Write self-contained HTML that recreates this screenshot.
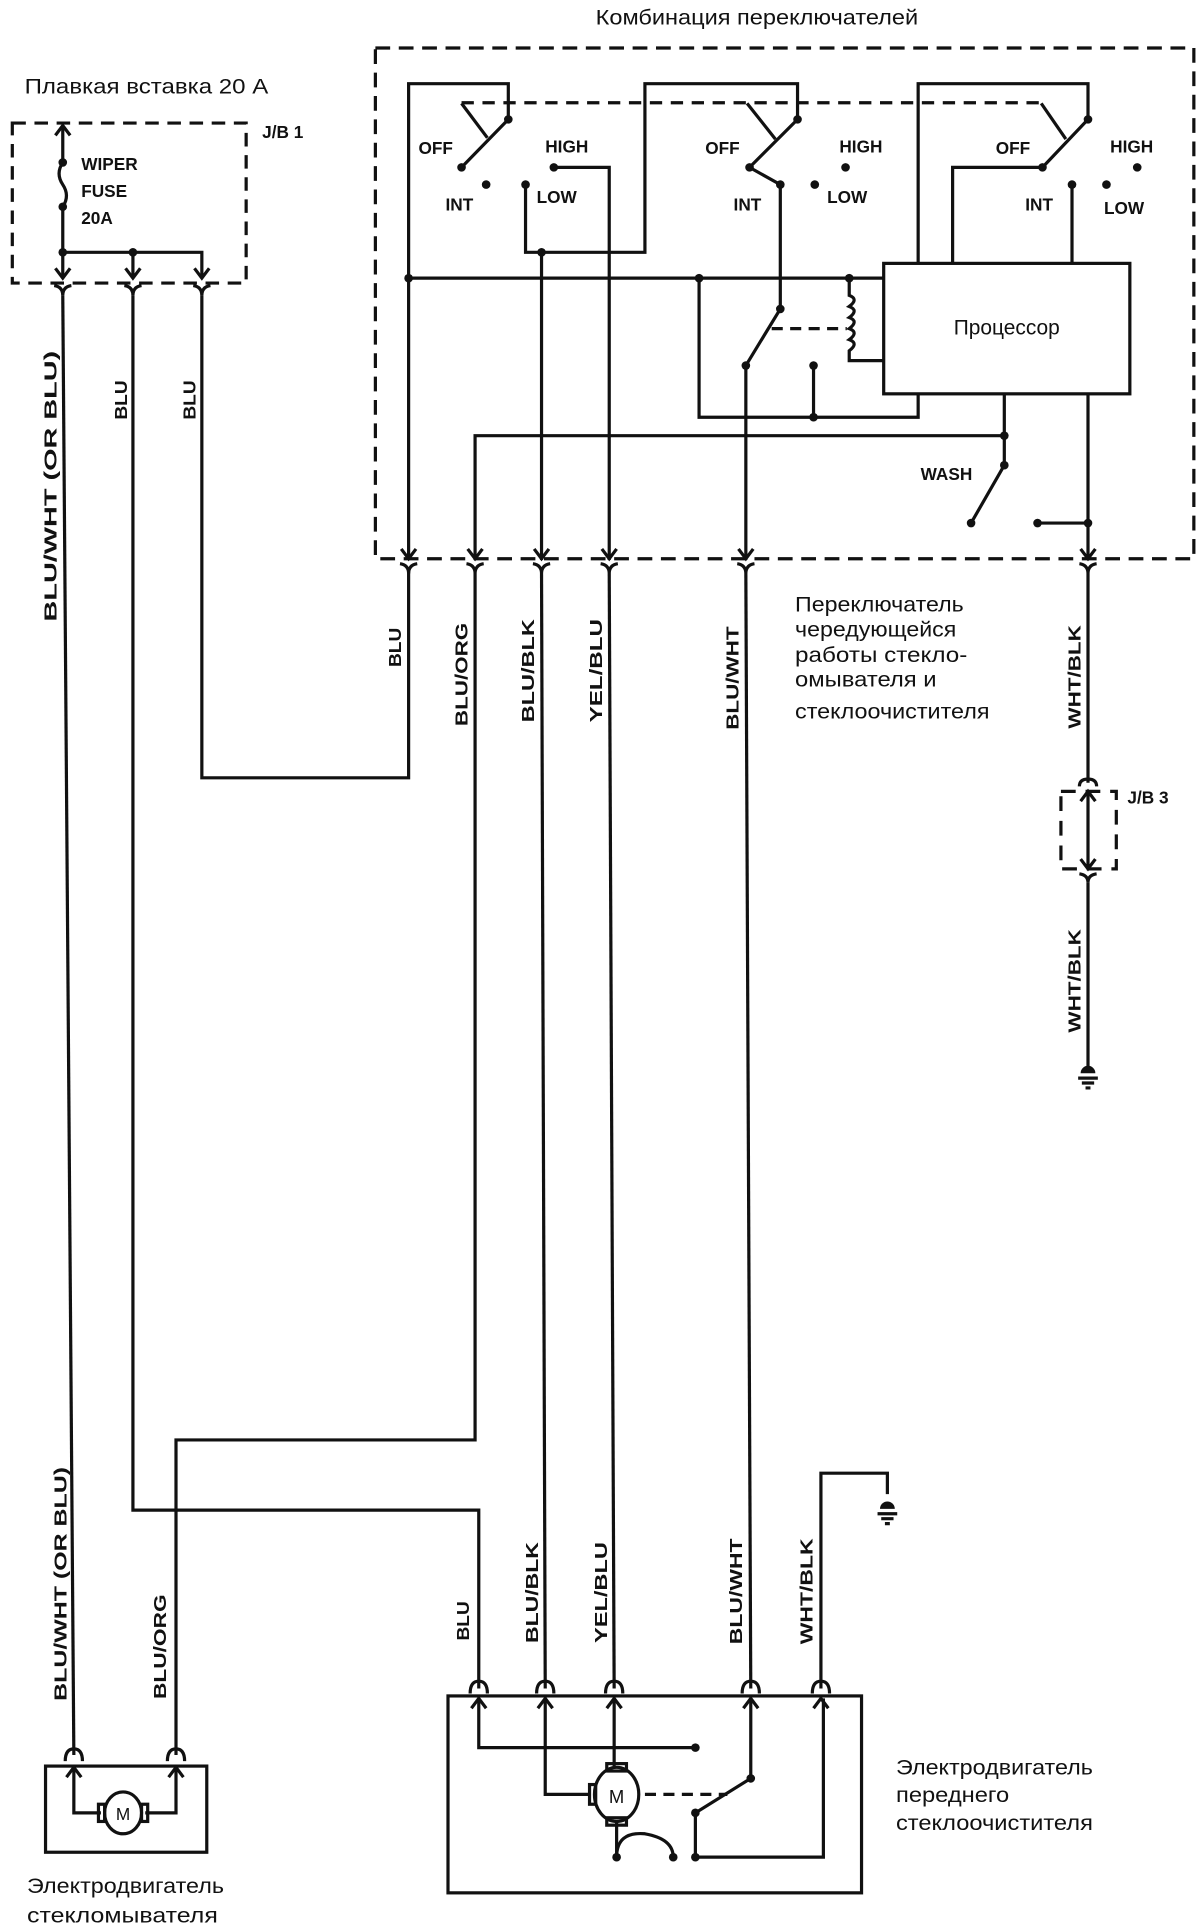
<!DOCTYPE html>
<html><head><meta charset="utf-8"><style>
html,body{margin:0;padding:0;background:#fff;}
svg{display:block;}
text{font-family:"Liberation Sans","DejaVu Sans",sans-serif;fill:#111;}
.l{font-size:14px;font-weight:bold;}
.r{font-size:17px;}
</style></head><body>
<svg width="1200" height="1931" viewBox="0 0 975 1569" preserveAspectRatio="none" xmlns="http://www.w3.org/2000/svg">
<g fill="none" stroke="#111" stroke-width="2.6" stroke-linejoin="miter">
<!-- J/B 1 -->
<rect x="10" y="100" width="190" height="130" stroke-dasharray="11 7"/>
<path d="M51,102 V132 M51,168 V226 M51,205 H164 V226 M108,205 V226"/>
<path d="M51,132 q-6,9 0,18 q6,9 0,18"/>
<path d="M45,110 L51,102 L57,110"/>
<path d="M45,218 L51,226 L57,218 M102,218 L108,226 L114,218 M158,218 L164,226 L170,218"/>
<!-- cups below JB1 -->
<path d="M44,232 Q51,233 51,240 M58,232 Q51,233 51,240 M101,232 Q108,233 108,240 M115,232 Q108,233 108,240 M157,232 Q164,233 164,240 M171,232 Q164,233 164,240"/>
<!-- wires from JB1 -->
<path d="M51,240 L60,1426"/>
<path d="M108,240 V1227 H389 V1372"/>
<path d="M164,240 V632 H332 V462"/>
<!-- Combination switch box -->
<rect x="305" y="39" width="665" height="415" stroke-dasharray="12 7"/>
<!-- switch 1 -->
<path d="M332,455 V68 H413 V97"/>
<path d="M413,97 L375,136"/>
<path d="M375,84 L396,112" />
<path d="M375,83.5 H846" stroke-dasharray="10 7"/>
<path d="M450,136 H495 V455"/>
<path d="M427,150 V205 H524 V68 H648 V97"/>
<path d="M440,205 V455"/>
<!-- switch 2 -->
<path d="M648,97 L609,136 L634,150 V251 L606,297 V455"/>
<path d="M607,84 L630,113"/>
<path d="M627,267 H688" stroke-dasharray="9 6"/>
<!-- switch 3 -->
<path d="M746,214 V68 H884 V97 L847,136 H774 V214"/>
<path d="M871,150 V214"/>
<path d="M846,84 L866,113"/>
<!-- bus -->
<path d="M332,226 H718"/>
<path d="M690,226 V240 q8,3 0,9 q8,3 0,9 q8,3 0,9 q8,3 0,9 q8,3 0,9 V293 H718"/>
<path d="M568,226 V339 H746 V320"/>
<path d="M661,339 V297"/>
<rect x="718" y="214" width="200" height="106"/>
<path d="M816,320 V378 L789,425"/>
<path d="M386,455 V354 H816"/>
<path d="M884,320 V455 M884,425 H843"/>
<!-- down arrows in box -->
<path d="M326,446 L332,454 L338,446 M380,446 L386,454 L392,446 M434,446 L440,454 L446,446 M489,446 L495,454 L501,446 M600,446 L606,454 L612,446 M878,446 L884,454 L890,446"/>
<!-- cups below box -->
<path d="M325,458 Q332,459 332,466 M339,458 Q332,459 332,466 M379,458 Q386,459 386,466 M393,458 Q386,459 386,466 M433,458 Q440,459 440,466 M447,458 Q440,459 440,466 M488,458 Q495,459 495,466 M502,458 Q495,459 495,466 M599,458 Q606,459 606,466 M613,458 Q606,459 606,466 M877,458 Q884,459 884,466 M891,458 Q884,459 884,466"/>
<!-- wires down -->
<path d="M386,466 V1170 H143 V1426"/>
<path d="M440,466 L443,1372"/>
<path d="M495,466 L499,1372"/>
<path d="M606,466 L610,1372"/>
<path d="M884,466 V636"/>
<!-- J/B 3 -->
<rect x="862" y="643" width="45" height="63" stroke-dasharray="12 8"/>
<path d="M884,643 V706 M878,651 L884,643 L890,651 M878,698 L884,706 L890,698"/>
<path d="M877,639 Q877,633 884,633 Q891,633 891,639"/>
<path d="M877,710 Q884,711 884,717 M891,710 Q884,711 884,717"/>
<path d="M884,717 V870"/>
<!-- ground right -->
<path d="M876,876 H892 M879,880 H889 M882,884 H886"/>
<!-- ground bottom -->
<path d="M667,1372 V1197 H721 V1214"/>
<path d="M713,1230 H729 M716,1234 H726 M719,1238 H723"/>
<!-- main motor box -->
<rect x="364" y="1378" width="336" height="160"/>
<path d="M382,1376 Q382,1366 389,1366 Q396,1366 396,1376 M436,1376 Q436,1366 443,1366 Q450,1366 450,1376 M492,1376 Q492,1366 499,1366 Q506,1366 506,1376 M603,1376 Q603,1366 610,1366 Q617,1366 617,1376 M660,1376 Q660,1366 667,1366 Q674,1366 674,1376"/>
<path d="M383,1388 L389,1380 L395,1388 M437,1388 L443,1380 L449,1388 M493,1388 L499,1380 L505,1388 M604,1388 L610,1380 L616,1388 M661,1388 L667,1380 L673,1388"/>
<path d="M389,1380 V1420 H565"/>
<path d="M443,1380 V1458 H480"/>
<path d="M499,1380 V1436"/>
<path d="M610,1380 V1445 L565,1473 V1509 H669 V1380"/>
<path d="M501,1480 V1509"/>
<path d="M501,1509 Q501,1488 524,1490 Q547,1494 547,1509"/>
<path d="M524,1458 H591" stroke-dasharray="9 6"/>
<ellipse cx="501" cy="1458" rx="18" ry="22"/>
<rect x="493" y="1433" width="16" height="6"/>
<rect x="493" y="1477" width="16" height="6"/>
<rect x="479" y="1450" width="5" height="16"/>
<!-- washer motor -->
<rect x="37" y="1435" width="131" height="70"/>
<path d="M53,1431 Q53,1421 60,1421 Q67,1421 67,1431 M136,1431 Q136,1421 143,1421 Q150,1421 150,1431"/>
<path d="M54,1444 L60,1436 L66,1444 M137,1444 L143,1436 L149,1444"/>
<path d="M60,1436 V1473 H82 M143,1436 V1473 H118"/>
<ellipse cx="100" cy="1473" rx="15" ry="17"/>
<rect x="80" y="1466" width="5" height="14"/>
<rect x="115" y="1466" width="5" height="14"/>
</g>
<!-- dots -->
<g fill="#111">
<circle cx="51" cy="132" r="3.5"/><circle cx="51" cy="168" r="3.5"/>
<circle cx="51" cy="205" r="3.5"/><circle cx="108" cy="205" r="3.5"/>
<circle cx="413" cy="97" r="3.5"/><circle cx="375" cy="136" r="3.5"/>
<circle cx="395" cy="150" r="3.5"/><circle cx="450" cy="136" r="3.5"/><circle cx="427" cy="150" r="3.5"/>
<circle cx="440" cy="205" r="3.5"/>
<circle cx="648" cy="97" r="3.5"/><circle cx="609" cy="136" r="3.5"/><circle cx="634" cy="150" r="3.5"/>
<circle cx="687" cy="136" r="3.5"/><circle cx="662" cy="150" r="3.5"/>
<circle cx="634" cy="251" r="3.5"/><circle cx="606" cy="297" r="3.5"/><circle cx="661" cy="297" r="3.5"/>
<circle cx="661" cy="339" r="3.5"/>
<circle cx="884" cy="97" r="3.5"/><circle cx="847" cy="136" r="3.5"/><circle cx="871" cy="150" r="3.5"/>
<circle cx="899" cy="150" r="3.5"/><circle cx="924" cy="136" r="3.5"/>
<circle cx="332" cy="226" r="3.5"/><circle cx="568" cy="226" r="3.5"/><circle cx="690" cy="226" r="3.5"/>
<circle cx="816" cy="354" r="3.5"/><circle cx="816" cy="378" r="3.5"/><circle cx="789" cy="425" r="3.5"/>
<circle cx="884" cy="425" r="3.5"/><circle cx="843" cy="425" r="3.5"/>
<path d="M878,872 A6,6 0 0 1 890,872 Z"/>
<path d="M715,1226 A6,6 0 0 1 727,1226 Z"/>
<circle cx="565" cy="1420" r="3.5"/><circle cx="610" cy="1445" r="3.5"/><circle cx="565" cy="1473" r="3.5"/>
<circle cx="501" cy="1509" r="3.5"/><circle cx="547" cy="1509" r="3.5"/><circle cx="565" cy="1509" r="3.5"/>
</g>
<!-- text -->
<text class="r" x="615" y="20" text-anchor="middle" textLength="262" lengthAdjust="spacingAndGlyphs">Комбинация переключателей</text>
<text class="r" x="20" y="76" textLength="198" lengthAdjust="spacingAndGlyphs">Плавкая вставка 20 А</text>
<text class="l" x="213" y="112">J/B  1</text>
<text class="l" x="66" y="138">WIPER</text>
<text class="l" x="66" y="160">FUSE</text>
<text class="l" x="66" y="182">20A</text>
<text class="l" x="340" y="125">OFF</text>
<text class="l" x="362" y="171">INT</text>
<text class="l" x="443" y="124">HIGH</text>
<text class="l" x="436" y="165">LOW</text>
<text class="l" x="573" y="125">OFF</text>
<text class="l" x="596" y="171">INT</text>
<text class="l" x="682" y="124">HIGH</text>
<text class="l" x="672" y="165">LOW</text>
<text class="l" x="809" y="125">OFF</text>
<text class="l" x="833" y="171">INT</text>
<text class="l" x="902" y="124">HIGH</text>
<text class="l" x="897" y="174">LOW</text>
<text class="r" x="818" y="272" text-anchor="middle">Процессор</text>
<text class="l" x="748" y="390">WASH</text>
<text class="l" x="916" y="653">J/B  3</text>
<g class="r">
<text class="r" x="646" y="497" textLength="137" lengthAdjust="spacingAndGlyphs">Переключатель</text>
<text class="r" x="646" y="517" textLength="131" lengthAdjust="spacingAndGlyphs">чередующейся</text>
<text class="r" x="646" y="538" textLength="140" lengthAdjust="spacingAndGlyphs">работы стекло-</text>
<text class="r" x="646" y="558" textLength="115" lengthAdjust="spacingAndGlyphs">омывателя и</text>
<text class="r" x="646" y="584" textLength="158" lengthAdjust="spacingAndGlyphs">стеклоочистителя</text>
<text class="r" x="728" y="1442" textLength="160" lengthAdjust="spacingAndGlyphs">Электродвигатель</text>
<text class="r" x="728" y="1464" textLength="92" lengthAdjust="spacingAndGlyphs">переднего</text>
<text class="r" x="728" y="1487" textLength="160" lengthAdjust="spacingAndGlyphs">стеклоочистителя</text>
<text class="r" x="22" y="1538" textLength="160" lengthAdjust="spacingAndGlyphs">Электродвигатель</text>
<text class="r" x="22" y="1562" textLength="155" lengthAdjust="spacingAndGlyphs">стекломывателя</text>
</g>
<!-- rotated wire labels -->
<g class="l">
<text transform="translate(46,395) rotate(-90)" text-anchor="middle" textLength="220" lengthAdjust="spacingAndGlyphs">BLU/WHT (OR BLU)</text>
<text transform="translate(103,325) rotate(-90)" text-anchor="middle" textLength="32" lengthAdjust="spacingAndGlyphs">BLU</text>
<text transform="translate(159,325) rotate(-90)" text-anchor="middle" textLength="32" lengthAdjust="spacingAndGlyphs">BLU</text>
<text transform="translate(326,526) rotate(-90)" text-anchor="middle" textLength="32" lengthAdjust="spacingAndGlyphs">BLU</text>
<text transform="translate(380,548) rotate(-90)" text-anchor="middle" textLength="84" lengthAdjust="spacingAndGlyphs">BLU/ORG</text>
<text transform="translate(434,545) rotate(-90)" text-anchor="middle" textLength="84" lengthAdjust="spacingAndGlyphs">BLU/BLK</text>
<text transform="translate(489,545) rotate(-90)" text-anchor="middle" textLength="84" lengthAdjust="spacingAndGlyphs">YEL/BLU</text>
<text transform="translate(600,551) rotate(-90)" text-anchor="middle" textLength="84" lengthAdjust="spacingAndGlyphs">BLU/WHT</text>
<text transform="translate(878,550) rotate(-90)" text-anchor="middle" textLength="84" lengthAdjust="spacingAndGlyphs">WHT/BLK</text>
<text transform="translate(878,797) rotate(-90)" text-anchor="middle" textLength="84" lengthAdjust="spacingAndGlyphs">WHT/BLK</text>
<text transform="translate(54,1287) rotate(-90)" text-anchor="middle" textLength="190" lengthAdjust="spacingAndGlyphs">BLU/WHT (OR BLU)</text>
<text transform="translate(135,1338) rotate(-90)" text-anchor="middle" textLength="85" lengthAdjust="spacingAndGlyphs">BLU/ORG</text>
<text transform="translate(381,1317) rotate(-90)" text-anchor="middle" textLength="32" lengthAdjust="spacingAndGlyphs">BLU</text>
<text transform="translate(437,1294) rotate(-90)" text-anchor="middle" textLength="82" lengthAdjust="spacingAndGlyphs">BLU/BLK</text>
<text transform="translate(493,1294) rotate(-90)" text-anchor="middle" textLength="82" lengthAdjust="spacingAndGlyphs">YEL/BLU</text>
<text transform="translate(603,1293) rotate(-90)" text-anchor="middle" textLength="86" lengthAdjust="spacingAndGlyphs">BLU/WHT</text>
<text transform="translate(660,1293) rotate(-90)" text-anchor="middle" textLength="86" lengthAdjust="spacingAndGlyphs">WHT/BLK</text>
</g>
<text x="501" y="1465" text-anchor="middle" style="font-size:15px">M</text>
<text x="100" y="1479" text-anchor="middle" style="font-size:14px">M</text>
</svg>
</body></html>
